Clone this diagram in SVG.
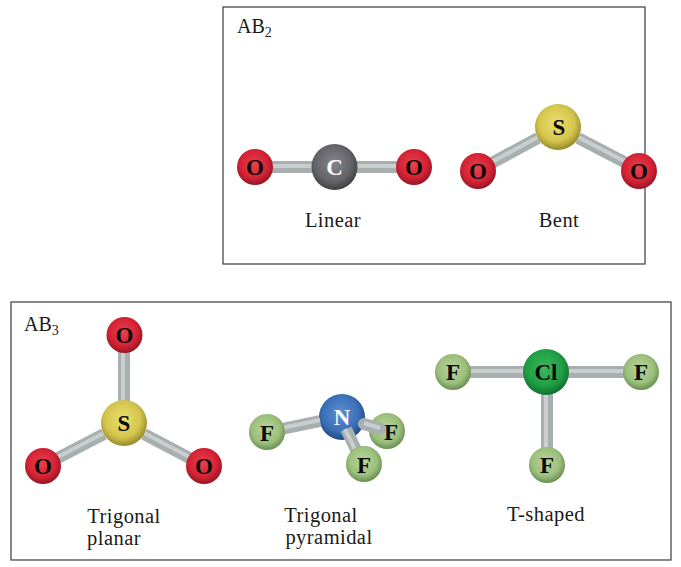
<svg xmlns="http://www.w3.org/2000/svg" width="681" height="567" viewBox="0 0 681 567">
<style>
.frame{fill:#fff;stroke:#4a4a4a;stroke-width:1.3}
.b{stroke:#a7afaf;stroke-width:12;fill:none}
.h{stroke:#c8cfce;stroke-width:4;fill:none}
.o{fill:url(#gO)}.c{fill:url(#gC)}.s{fill:url(#gS)}.n{fill:url(#gN)}.f{fill:url(#gF)}.cl{fill:url(#gCl)}
text{font-family:"Liberation Serif","Times New Roman",serif;fill:#1a1a1a}
.lab{font-size:20.5px;text-anchor:middle;letter-spacing:.45px}
.head{font-size:20px}
.sub{font-size:14px}
.a{font-size:23px;font-weight:700;text-anchor:middle;fill:#0a0a0a}
.w{fill:#fff}
</style>
<defs>
<radialGradient id="gO" cx=".47" cy=".42" r=".6"><stop offset="0" stop-color="#e8404c"/><stop offset=".65" stop-color="#d42234"/><stop offset="1" stop-color="#8e1422"/></radialGradient>
<radialGradient id="gC" cx=".47" cy=".42" r=".6"><stop offset="0" stop-color="#84848a"/><stop offset=".65" stop-color="#64646a"/><stop offset="1" stop-color="#3c3c40"/></radialGradient>
<radialGradient id="gS" cx=".47" cy=".42" r=".6"><stop offset="0" stop-color="#eadf70"/><stop offset=".65" stop-color="#d4c54c"/><stop offset="1" stop-color="#8e8228"/></radialGradient>
<radialGradient id="gN" cx=".47" cy=".42" r=".6"><stop offset="0" stop-color="#5e8fd2"/><stop offset=".65" stop-color="#3b6fb8"/><stop offset="1" stop-color="#1f4580"/></radialGradient>
<radialGradient id="gF" cx=".47" cy=".42" r=".6"><stop offset="0" stop-color="#b9d59a"/><stop offset=".65" stop-color="#9cbf7c"/><stop offset="1" stop-color="#64894c"/></radialGradient>
<radialGradient id="gCl" cx=".47" cy=".42" r=".6"><stop offset="0" stop-color="#3fb85c"/><stop offset=".65" stop-color="#1f9f44"/><stop offset="1" stop-color="#0e6a2a"/></radialGradient>
</defs>
<rect class="frame" x="223" y="7" width="422" height="257"/>
<rect class="frame" x="11" y="302" width="660" height="258"/>
<text class="head" x="237" y="33">AB<tspan class="sub" dy="4">2</tspan></text>
<text class="head" x="24" y="331">AB<tspan class="sub" dy="4">3</tspan></text>

<g id="atom-f-back"><circle class="f" cx="387" cy="431" r="18"/><text class="a" x="391" y="440">F</text></g>
<g id="atom-n"><circle class="n" cx="342" cy="417" r="23"/><text class="a w" x="342" y="425">N</text></g>

<g id="connectors">
<line class="b" x1="264" y1="167" x2="315" y2="167"/><line class="h" x1="264" y1="166" x2="315" y2="166"/>
<line class="b" x1="354" y1="167" x2="405" y2="167"/><line class="h" x1="354" y1="166" x2="405" y2="166"/>
<line class="b" x1="488" y1="165" x2="538" y2="138"/><line class="h" x1="488" y1="164" x2="538" y2="137"/>
<line class="b" x1="630" y1="165" x2="578" y2="138"/><line class="h" x1="630" y1="164" x2="578" y2="137"/>
<line class="b" x1="124" y1="345" x2="124" y2="402"/><line class="h" x1="123" y1="345" x2="123" y2="402"/>
<line class="b" x1="52" y1="461" x2="104" y2="434"/><line class="h" x1="52" y1="460" x2="104" y2="433"/>
<line class="b" x1="195" y1="461" x2="144" y2="434"/><line class="h" x1="195" y1="460" x2="144" y2="433"/>
<line class="b" x1="277" y1="430" x2="320" y2="421"/><line class="h" x1="277" y1="429" x2="320" y2="420"/>
<line class="b" x1="364" y1="424" x2="380" y2="429" stroke-linecap="round"/><line class="h" x1="364" y1="423" x2="380" y2="428"/>
<line class="b" x1="346" y1="429" x2="360" y2="458"/><line class="h" x1="345" y1="429" x2="359" y2="458"/>
<line class="b" x1="462" y1="372" x2="525" y2="372"/><line class="h" x1="462" y1="371" x2="525" y2="371"/>
<line class="b" x1="567" y1="372" x2="632" y2="372"/><line class="h" x1="567" y1="371" x2="632" y2="371"/>
<line class="b" x1="547" y1="393" x2="547" y2="455"/><line class="h" x1="546" y1="393" x2="546" y2="455"/>
</g>

<g id="linear">
<g id="atom-o1"><circle class="o" cx="255" cy="167" r="18"/><text class="a" x="255" y="175">O</text></g>
<g id="atom-c"><circle class="c" cx="334.500" cy="167" r="23"/><text class="a w" x="334.500" y="175">C</text></g>
<g id="atom-o2"><circle class="o" cx="414" cy="167" r="18"/><text class="a" x="414" y="175">O</text></g>
</g>
<g id="bent">
<g id="atom-s1"><circle class="s" cx="558" cy="127" r="23"/><text class="a" x="559" y="135">S</text></g>
<g id="atom-o3"><circle class="o" cx="478" cy="171" r="18"/><text class="a" x="478" y="179">O</text></g>
<g id="atom-o4"><circle class="o" cx="639" cy="171" r="18"/><text class="a" x="639" y="179">O</text></g>
</g>
<g id="trigonal-planar">
<g id="atom-o5"><circle class="o" cx="124.500" cy="335" r="18"/><text class="a" x="124.500" y="343">O</text></g>
<g id="atom-s2"><circle class="s" cx="124" cy="423" r="23"/><text class="a" x="124" y="431">S</text></g>
<g id="atom-o6"><circle class="o" cx="43" cy="466" r="18"/><text class="a" x="43" y="474">O</text></g>
<g id="atom-o7"><circle class="o" cx="204" cy="466" r="18"/><text class="a" x="204" y="474">O</text></g>
</g>
<g id="trigonal-pyramidal">
<g id="atom-f1"><circle class="f" cx="267" cy="432" r="18"/><text class="a" x="267" y="441">F</text></g>
<g id="atom-f2"><circle class="f" cx="364" cy="464" r="18"/><text class="a" x="364" y="473">F</text></g>
</g>
<g id="t-shaped">
<g id="atom-cl"><circle class="cl" cx="546" cy="372" r="23"/><text class="a" x="546" y="380">Cl</text></g>
<g id="atom-f3"><circle class="f" cx="453" cy="372" r="18"/><text class="a" x="453" y="380">F</text></g>
<g id="atom-f4"><circle class="f" cx="641" cy="372" r="18"/><text class="a" x="641" y="380">F</text></g>
<g id="atom-f5"><circle class="f" cx="547" cy="465" r="18"/><text class="a" x="547" y="473">F</text></g>
</g>

<text class="lab" x="333" y="227">Linear</text>
<text class="lab" x="559" y="227">Bent</text>
<text class="lab" x="124" y="523">Trigonal</text>
<text class="lab" x="114" y="545">planar</text>
<text class="lab" x="321" y="522">Trigonal</text>
<text class="lab" x="329" y="544">pyramidal</text>
<text class="lab" x="546" y="521">T-shaped</text>
</svg>
